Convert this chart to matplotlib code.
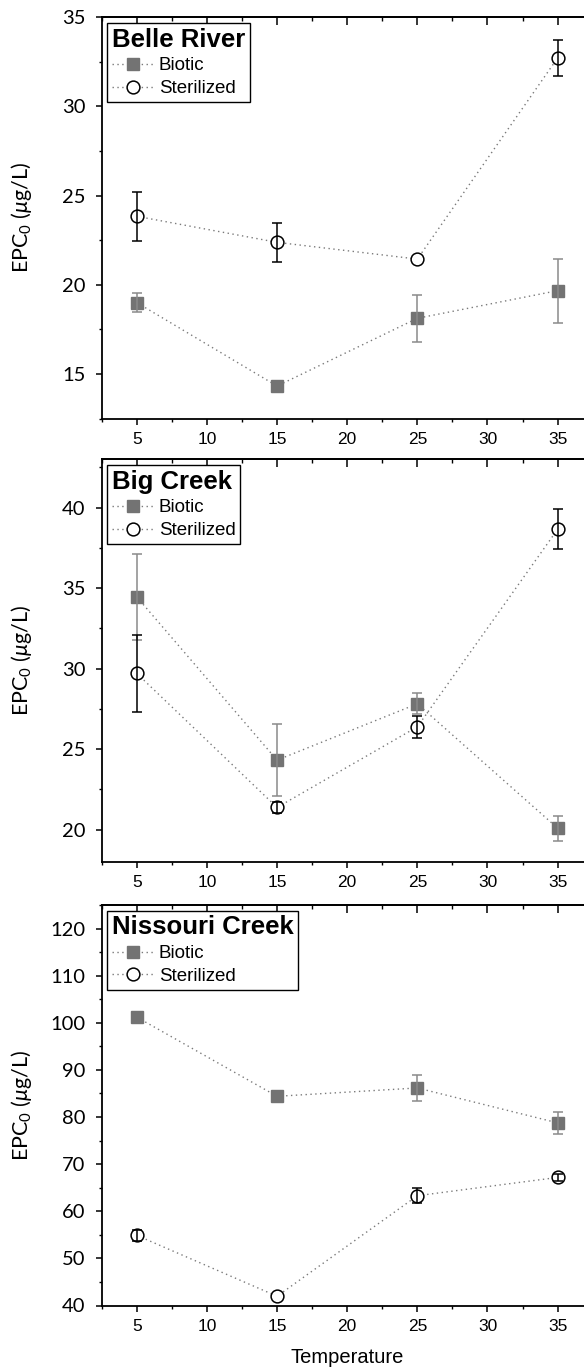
import matplotlib
matplotlib.use("Agg")
import matplotlib.pyplot as plt
from matplotlib.ticker import MultipleLocator
from matplotlib.lines import Line2D

# ---- data ----
temperature = [5, 15, 25, 35]

sites = ["Belle River", "Big Creek", "Nissouri Creek"]

belle_biotic = [19.0, 14.32, 18.12, 19.67]
belle_biotic_err = [0.55, 0.0, 1.33, 1.8]
belle_steril = [23.84, 22.38, 21.44, 32.72]
belle_steril_err = [1.37, 1.1, 0.0, 1.0]

big_biotic = [34.45, 24.31, 27.81, 20.08]
big_biotic_err = [2.65, 2.25, 0.65, 0.77]
big_steril = [29.7, 21.37, 26.38, 38.65]
big_steril_err = [2.4, 0.35, 0.7, 1.25]

nis_biotic = [101.2, 84.4, 86.17, 78.76]
nis_biotic_err = [0.0, 0.0, 2.75, 2.35]
nis_steril = [54.89, 41.96, 63.3, 67.18]
nis_steril_err = [1.2, 0.0, 1.6, 0.8]

series_labels = ["Biotic", "Sterilized"]
x_label = "Temperature"
y_label = r"EPC$_0$ ($\mu$g/L)"

panels = [
    (sites[0], belle_biotic, belle_biotic_err, belle_steril, belle_steril_err),
    (sites[1], big_biotic, big_biotic_err, big_steril, big_steril_err),
    (sites[2], nis_biotic, nis_biotic_err, nis_steril, nis_steril_err),
]

# ---- layout / style ----
plt.rcParams['mathtext.fontset'] = 'custom'
plt.rcParams['mathtext.rm'] = 'Lato'
plt.rcParams['mathtext.it'] = 'Lato:italic'

W, H = 584, 1368
fig = plt.figure(figsize=(W / 100, H / 100), dpi=100)

left_px, right_px = 101.7, 592.7
# (top_px, bottom_px, ylim, major, minor)
geom = [
    (17.3, 418.5, (12.5, 35), 5, 2.5),
    (459.3, 861.7, (18, 43), 5, 2.5),
    (905.0, 1305.5, (40, 125), 10, 5),
]

gray_fill = "#737373"
gray_err = "#8a8a8a"
line_gray = "#7a7a7a"
dots = (0, (1, 2.5))

sq_style = dict(marker='s', ms=9, mfc=gray_fill, mec=gray_fill)
ci_style = dict(marker='o', ms=9.2, mfc='white', mec='black', mew=1.1)


def draw_err(ax, xs, ys, es, color):
    sel = [k for k, e in enumerate(es) if e > 0]
    ax.errorbar([xs[k] for k in sel], [ys[k] for k in sel], yerr=[es[k] for k in sel],
                fmt='none', ecolor=color, elinewidth=1.1, capsize=3.5, capthick=1.1, zorder=5)


for i, ((site, bio, bio_e, ste, ste_e), (tp, bp, ylim, maj, mnr)) in enumerate(zip(panels, geom)):
    ax = fig.add_axes([left_px / W, 1 - bp / H, (right_px - left_px) / W, (bp - tp) / H])
    ax.set_xlim(2.5, 37.5)
    ax.set_ylim(*ylim)

    ax.plot(temperature, bio, linestyle=dots, color=line_gray, lw=1.0, zorder=3, **sq_style)
    ax.plot(temperature, ste, linestyle=dots, color=line_gray, lw=1.0, zorder=3, **ci_style)
    draw_err(ax, temperature, bio, bio_e, gray_err)
    draw_err(ax, temperature, ste, ste_e, 'black')

    for s in ['left', 'bottom', 'top', 'right']:
        ax.spines[s].set_linewidth(1.3)
        ax.spines[s].set_color('black')

    ax.xaxis.set_major_locator(MultipleLocator(5))
    ax.xaxis.set_minor_locator(MultipleLocator(2.5))
    ax.yaxis.set_major_locator(MultipleLocator(maj))
    ax.yaxis.set_minor_locator(MultipleLocator(mnr))

    ax.tick_params(axis='x', which='major', direction='out', length=4.5, width=1.1,
                   pad=5, labelsize=12.5)
    ax.tick_params(axis='x', which='minor', direction='out', length=2.5, width=1.0)
    ax.tick_params(axis='y', which='major', direction='out', length=4.5, width=1.1,
                   pad=7, labelsize=14.5)
    ax.tick_params(axis='y', which='minor', direction='out', length=2.5, width=1.0)
    for lab in ax.get_xticklabels():
        lab.set_fontfamily('Liberation Sans')
    for lab in ax.get_yticklabels():
        lab.set_fontfamily('Lato')

    sec = ax.secondary_xaxis('top')
    sec.xaxis.set_major_locator(MultipleLocator(5))
    sec.xaxis.set_minor_locator(MultipleLocator(2.5))
    sec.tick_params(axis='x', which='major', direction='in', length=6, width=1.1, labeltop=False)
    sec.tick_params(axis='x', which='minor', direction='in', length=3, width=1.0)
    sec.spines['top'].set_linewidth(1.3)

    ax.set_ylabel(y_label, fontsize=15.5, fontfamily='Lato')
    ax.yaxis.set_label_coords((34 - left_px) / (right_px - left_px), 0.5)

    handles = [
        Line2D([], [], linestyle=dots, color=line_gray, lw=1.0, **sq_style),
        Line2D([], [], linestyle=dots, color=line_gray, lw=1.0, **ci_style),
    ]
    leg = ax.legend(handles, series_labels, loc='upper left', bbox_to_anchor=(0.0, 1.0),
                    title=site,
                    title_fontproperties={'family': 'Liberation Sans', 'weight': 'bold', 'size': 18.5},
                    prop={'family': 'Liberation Sans', 'size': 13.5},
                    alignment='left', frameon=True, fancybox=False, framealpha=1,
                    edgecolor='black', borderaxespad=0.3, borderpad=0.25,
                    handlelength=2.2, handletextpad=0.3, labelspacing=0.3,
                    numpoints=1, markerscale=1.0)
    leg.get_frame().set_linewidth(1.0)
    leg.set_zorder(10)

    if i == 2:
        ax.set_xlabel(x_label, fontsize=14.5, fontfamily='Liberation Sans')
        ax.xaxis.set_label_coords((347 - left_px) / (right_px - left_px), -0.105)

fig.savefig("out.png", dpi=100)
